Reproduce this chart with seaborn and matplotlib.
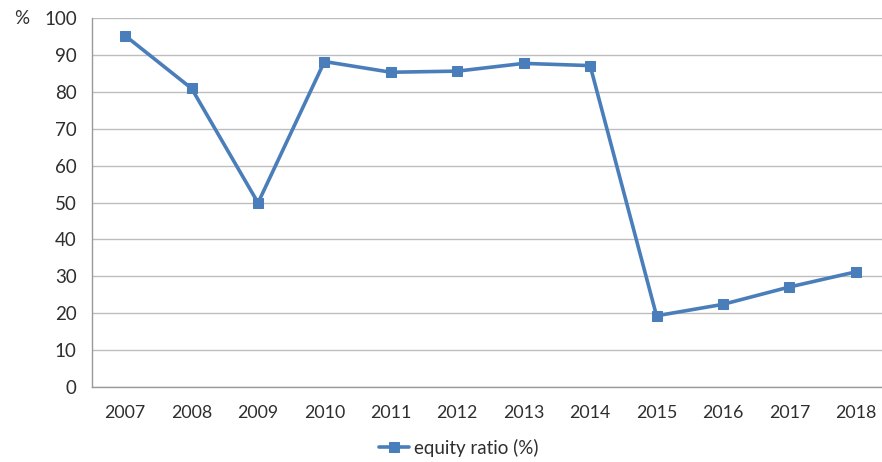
import matplotlib
matplotlib.use("Agg")
import matplotlib.pyplot as plt
import seaborn as sns
import pandas as pd
import numpy as np

years = ["2007", "2008", "2009", "2010", "2011", "2012",
         "2013", "2014", "2015", "2016", "2017", "2018"]
equity_ratio = [95.2, 80.9, 49.9, 88.2, 85.3, 85.6,
                87.7, 87.1, 19.3, 22.4, 27.1, 31.2]
y_ticks = [0, 10, 20, 30, 40, 50, 60, 70, 80, 90, 100]
series_name = "equity ratio (%)"

df = pd.DataFrame({"year": years, "value": equity_ratio})

sns.set_theme(style="white")
plt.rcParams["font.family"] = ["Lato", "DejaVu Sans"]

blue = "#4a7ebb"
grid_c = "#bdbdbd"
text_c = "#2e2e2e"

fig = plt.figure(figsize=(8.82, 4.62), dpi=100)
ax = fig.add_axes([92 / 882, 1 - 387 / 462, 797 / 882, 369 / 462])

sns.lineplot(data=df, x="year", y="value", ax=ax, color=blue,
             linewidth=2.6, marker="s", markersize=7.5,
             markeredgecolor=blue, markerfacecolor=blue,
             label=series_name, legend=False, sort=False)

n = len(years)
ax.set_xlim(-0.5, n - 0.5)
ax.set_ylim(0, 100)
ax.set_yticks(y_ticks)
ax.set_yticklabels([str(t) for t in y_ticks])
ax.set_xticks(range(n))
ax.set_xticklabels(years)
ax.set_xticks(np.arange(-0.5, n, 1.0), minor=True)
ax.tick_params(axis="x", which="major", length=0, pad=13,
               labelsize=12.8, colors=text_c)
ax.tick_params(axis="x", which="minor", length=6, width=1,
               color="#999999", direction="out")
ax.tick_params(axis="y", which="major", length=6, width=1,
               color="#999999", direction="out", pad=5,
               labelsize=13.5, labelcolor=text_c)

ax.grid(axis="y", color=grid_c, linewidth=1)
ax.set_axisbelow(True)
for side in ["top", "right"]:
    ax.spines[side].set_visible(False)
for side in ["left", "bottom"]:
    ax.spines[side].set_color("#999999")
    ax.spines[side].set_linewidth(1)

ax.set_xlabel("")
ax.set_ylabel("")
fig.text(22 / 882, 1 - 19 / 462, "%", fontsize=13.5, color=text_c,
         ha="center", va="center")

handles, labels = ax.get_legend_handles_labels()
fig.legend(handles, labels, loc="center",
           bbox_to_anchor=(0.52, 1 - 448 / 462), frameon=False,
           fontsize=13.5, handlelength=1.6, handletextpad=0.3,
           labelcolor=text_c)

fig.savefig("out.png", dpi=100, facecolor="white")
